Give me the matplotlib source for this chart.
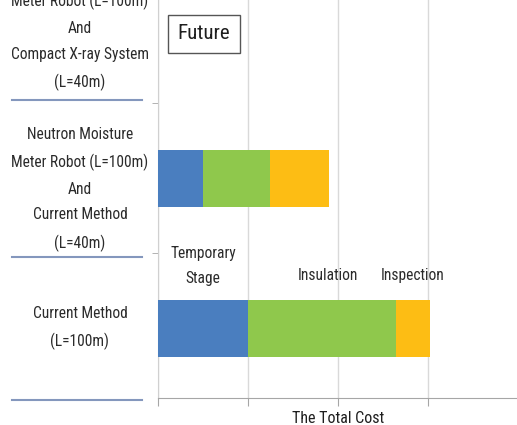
import matplotlib
matplotlib.use('Agg')
import matplotlib.pyplot as plt
import matplotlib.transforms as mtransforms
import logging

logging.getLogger('matplotlib.font_manager').setLevel(logging.ERROR)
plt.rcParams['font.family'] = ['Liberation Sans Narrow', 'Roboto Condensed', 'Lato', 'DejaVu Sans']

# cost breakdown per method (bottom row first)
methods = ['Current Method\n(L=100m)',
           'Neutron Moisture\nMeter Robot (L=100m)\nAnd\nCurrent Method\n(L=40m)',
           'Neutron Moisture\nMeter Robot (L=100m)\nAnd\nCompact X-ray System\n(L=40m)']
temporary = [1.0, 0.5, 0]
insulation = [1.64, 0.74, 0]
inspection = [0.38, 0.66, 0]
label_shift = [0, -8, 0]   # points, vertical nudge of the row labels
pos = list(range(len(methods)))

fig = plt.figure(figsize=(5.17, 4.25), dpi=100)
ax = fig.add_axes([158/517, 27/425, 360/517, 398/425])

h = 0.38
left2 = [a + b for a, b in zip(temporary, insulation)]
ax.barh(pos, temporary, height=h, color='#4a7ebf', zorder=3)
ax.barh(pos, insulation, left=temporary, height=h, color='#8fc84c', zorder=3)
ax.barh(pos, inspection, left=left2, height=h, color='#fdbd14', zorder=3)

ax.set_xlim(0, 4)
ax.set_ylim(-0.467, 2.19)
ax.set_xticks([0, 1, 2, 3, 4])
ax.set_xticklabels([])
ax.set_yticks([])
ax.set_yticks([0.5, 1.5], minor=True)
ax.tick_params(axis='x', length=6, color='#a6a6a6')
ax.tick_params(axis='y', which='minor', length=4, color='#a6a6a6')
ax.grid(axis='x', color='#d9d9d9', lw=1, zorder=0)
for s in ['top', 'right']:
    ax.spines[s].set_visible(False)
ax.spines['left'].set_color('#d0d0d0')
ax.spines['bottom'].set_color('#a6a6a6')

txt = '#2b2b2b'

# row labels and separators on the left
tr = mtransforms.blended_transform_factory(ax.transAxes, ax.transData)
for p, m, dy in zip(pos, methods, label_shift):
    ax.annotate(m, xy=(-0.217, p), xycoords=tr, xytext=(0, dy),
                textcoords='offset points', ha='center', va='center',
                fontsize=11.2, linespacing=1.88, color=txt,
                annotation_clip=False)
for y in [-0.48, 0.473, 1.52]:
    ax.plot([-0.405, -0.044], [y, y], transform=tr, color='#8497bd',
            lw=1.5, clip_on=False)

ax.text(0.5, 0.415, 'Temporary\nStage', ha='center', va='center',
        fontsize=11.2, linespacing=1.8, color=txt)
ax.text(1.89, 0.35, 'Insulation', ha='center', va='center',
        fontsize=11.2, color=txt)
ax.text(2.83, 0.35, 'Inspection', ha='center', va='center',
        fontsize=11.2, color=txt)
ax.text(0.51, 1.965, 'Future', ha='center', va='center', fontsize=15,
        color='#1e1e1e',
        bbox=dict(boxstyle='square,pad=0.45', fc='white', ec='#555555', lw=1))

ax.set_xlabel('The Total Cost', fontsize=11.5, color='#1e1e1e', labelpad=0)

fig.savefig('out.png', dpi=100)
